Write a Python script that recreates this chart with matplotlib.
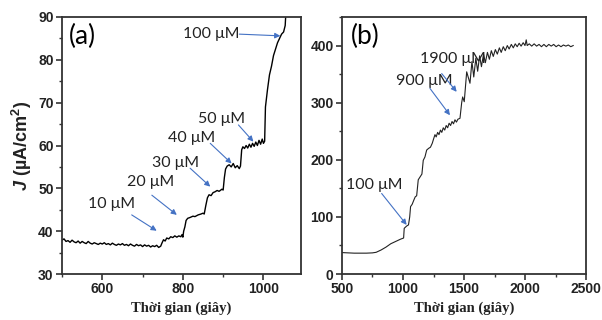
import matplotlib
matplotlib.use("Agg")
import matplotlib.pyplot as plt
from matplotlib.ticker import MultipleLocator

plt.rcParams['mathtext.fontset'] = 'custom'
plt.rcParams['mathtext.bfit'] = 'Liberation Sans:bold:italic'
plt.rcParams['mathtext.bf'] = 'Liberation Sans:bold'
plt.rcParams['mathtext.rm'] = 'Liberation Sans'

# ---------------- data: panel (a) ----------------
a_time = [500, 505, 510, 515, 520, 525, 530, 535, 540, 545, 550, 555, 560, 565, 570,
          575, 580, 585, 590, 595, 600, 605, 610, 615, 620, 625, 630, 635, 640, 645,
          650, 655, 660, 665, 670, 675, 680, 685, 690, 695, 700, 705, 710, 715, 720,
          725, 730, 735, 740, 745, 748, 752, 756, 760, 765, 770, 775, 780, 785, 790,
          795, 798, 800, 802, 805, 808, 812, 818, 825, 830, 838, 845, 850, 853, 857,
          861, 865, 870, 875, 880, 885, 890, 897, 900, 903, 906, 910, 915, 920, 925,
          930, 935, 940, 943, 946, 949, 953, 957, 961, 965, 969, 973, 977, 981, 985,
          989, 993, 997, 1000, 1003, 1005, 1010, 1015, 1020, 1025, 1030, 1035, 1040,
          1045, 1050, 1054, 1058]
a_current = [37.9, 38.2, 37.6, 37.8, 37.4, 37.9, 37.5, 37.3, 37.7, 37.2, 37.6, 37.3, 37.1, 37.6, 37.2,
             37.0, 37.3, 37.1, 36.9, 37.2, 37.0, 37.3, 36.9, 37.1, 36.8, 37.2, 36.9, 36.7, 37.0, 36.8,
             37.1, 36.7, 36.9, 36.6, 37.0, 36.7, 36.5, 36.9, 36.6, 36.8, 36.4, 36.8, 36.5, 36.7, 36.3,
             36.6, 36.4, 36.7, 36.2, 36.5, 37.2, 38.0, 37.7, 38.4, 38.2, 38.7, 38.5, 38.9, 38.6, 38.9,
             38.7, 39.2, 38.6, 40.0, 41.0, 42.5, 43.0, 43.2, 43.5, 43.4, 43.8, 44.0, 44.2, 44.0, 46.0,
             47.8, 48.5, 48.3, 49.0, 49.2, 49.5, 49.3, 49.8, 49.6, 52.5, 54.5, 55.2, 55.5, 55.0, 55.8,
             54.8, 55.3, 54.6, 55.2, 59.0, 59.7, 59.3, 60.0, 59.4, 60.3, 59.6, 60.5, 59.8, 60.8, 60.0,
             61.2, 60.3, 61.5, 60.5, 61.0, 69.0, 73.0, 76.5, 78.5, 81.0, 82.5, 84.0, 85.0,
             86.0, 86.5, 88.0, 95.0]

a_labels = ["10 \u03bcM", "20 \u03bcM", "30 \u03bcM", "40 \u03bcM", "50 \u03bcM", "100 \u03bcM"]
a_text_xy = [(622, 46.3), (719, 51.4), (782, 56.0), (822, 61.75), (896, 66.2), (871, 86.0)]
a_arrow_from = [(673, 43.8), (723, 48.4), (818, 54.7), (868, 60.5), (938, 64.8), (940, 86.0)]
a_arrow_to = [(735, 40.1), (785, 43.8), (868, 50.4), (921, 55.8), (975, 60.9), (1042, 85.6)]

# ---------------- data: panel (b) ----------------
b_time = [500, 550, 600, 650, 700, 750, 780, 820, 860, 900, 940, 980, 1005, 1010, 1030,
          1045, 1055, 1062, 1075, 1090, 1100, 1112, 1125, 1140, 1155, 1166, 1180, 1194,
          1210, 1225, 1240, 1250, 1262, 1272, 1284, 1295, 1307, 1318, 1330, 1342, 1354,
          1366, 1378, 1390, 1402, 1414, 1426, 1438, 1450, 1467, 1481, 1489, 1502, 1522,
          1549, 1565, 1580, 1597, 1612, 1628, 1643, 1660, 1675, 1692, 1708, 1724, 1740,
          1757, 1773, 1790, 1805, 1822, 1838, 1855, 1870, 1888, 1904, 1920, 1936, 1952,
          1968, 1985, 2000, 2010, 2018, 2035, 2055, 2075, 2095, 2115, 2135, 2155, 2175,
          2195, 2215, 2235, 2255, 2275, 2295, 2315, 2335, 2355, 2375, 2395]
b_current = [37.5, 37.0, 36.5, 36.5, 36.5, 37.0, 38.0, 42.0, 47.0, 53.0, 57.0, 61.0, 63.0, 80.0, 84.0,
             86.0, 100.0, 118.0, 122.0, 130.0, 135.0, 137.0, 165.0, 170.0, 175.0, 199.0, 205.0, 217.0,
             220.0, 222.0, 229.0, 236.0, 244.0, 240.0, 248.0, 244.0, 252.0, 248.0, 256.0, 252.0, 260.0,
             256.0, 264.0, 260.0, 267.0, 263.0, 270.0, 266.0, 271.0, 272.6, 300.0, 310.0, 301.7, 354.0,
             334.0, 372.0, 345.0, 378.0, 355.0, 382.0, 363.0, 385.0, 370.0, 388.0, 376.0, 391.0, 381.0,
             393.0, 385.0, 396.0, 388.0, 398.0, 391.0, 400.0, 394.0, 402.0, 396.0, 403.0, 398.0, 404.0,
             399.0, 405.0, 400.0, 410.0, 400.0, 403.0, 399.0, 403.0, 399.0, 402.0, 398.0, 402.0, 398.0,
             402.0, 399.0, 402.0, 398.0, 401.0, 398.0, 401.0, 399.0, 401.0, 398.0, 400.0]

b_labels = ["100 \u03bcM", "900 \u03bcM", "1900 \u03bcM"]
b_text_xy = [(762, 156), (1174, 338), (1411, 377)]
b_arrow_from = [(825, 141), (1221, 325), (1317, 351)]
b_arrow_to = [(1030, 86), (1385, 278), (1440, 319)]

# ---------------- figure ----------------
fig = plt.figure(figsize=(6.02, 3.2), dpi=100)
axA = fig.add_axes([62 / 602, 1 - 274 / 320, (300.5 - 62) / 602, (274 - 17) / 320])
axB = fig.add_axes([342 / 602, 1 - 274 / 320, (586 - 342) / 602, (274 - 17) / 320])

arrow_color = "#4472C4"
label_font = "Lato"
tick_font = "Liberation Sans"
xlabel_font = "Liberation Serif"
spine_color = "#333333"

def style(ax):
    for s in ax.spines.values():
        s.set_color(spine_color)
        s.set_linewidth(1.3)
    ax.tick_params(axis="both", which="major", direction="out", length=4, width=1.2,
                   color=spine_color, labelsize=10, pad=2)
    ax.tick_params(axis="both", which="minor", direction="out", length=2, width=1.0,
                   color=spine_color)
    for lab in ax.get_xticklabels() + ax.get_yticklabels():
        lab.set_fontfamily(tick_font)
        lab.set_fontweight("bold")
        lab.set_color("#222222")
    ax.set_xlabel("Thời gian (giây)", fontfamily=xlabel_font, fontweight="bold",
                  fontsize=10.5, labelpad=4, color="#222222")

# panel (a)
axA.plot(a_time, a_current, color="black", lw=1.0)
axA.set_xlim(500, 1092)
axA.set_ylim(30, 90)
axA.xaxis.set_major_locator(MultipleLocator(200))
axA.xaxis.set_minor_locator(MultipleLocator(100))
axA.yaxis.set_major_locator(MultipleLocator(10))
axA.yaxis.set_minor_locator(MultipleLocator(5))
style(axA)
axA.set_ylabel(r"$\mathbfit{J}$ (µA/cm$^{\mathbf{2}}$)", fontfamily=tick_font,
               fontweight="bold", fontsize=13, labelpad=3, color="#222222")
axA.text(0.03, 0.975, "(a)", transform=axA.transAxes, fontfamily=label_font,
         fontsize=19, va="top", ha="left")
for lab, txy, a0, a1 in zip(a_labels, a_text_xy, a_arrow_from, a_arrow_to):
    axA.text(txy[0], txy[1], lab, fontfamily=label_font, fontsize=11.5, ha="center",
             va="center", color="#222222")
    axA.annotate("", xy=a1, xytext=a0,
                 arrowprops=dict(arrowstyle="-|>", color=arrow_color, lw=0.8,
                                 mutation_scale=8, shrinkA=0, shrinkB=0))

# panel (b)
axB.plot(b_time, b_current, color="#222222", lw=0.8)
axB.set_xlim(500, 2500)
axB.set_ylim(0, 450)
axB.xaxis.set_major_locator(MultipleLocator(500))
axB.xaxis.set_minor_locator(MultipleLocator(250))
axB.yaxis.set_major_locator(MultipleLocator(100))
axB.yaxis.set_minor_locator(MultipleLocator(50))
style(axB)
axB.text(0.035, 0.975, "(b)", transform=axB.transAxes, fontfamily=label_font,
         fontsize=19, va="top", ha="left")
for lab, txy, a0, a1 in zip(b_labels, b_text_xy, b_arrow_from, b_arrow_to):
    axB.text(txy[0], txy[1], lab, fontfamily=label_font, fontsize=11.5, ha="center",
             va="center", color="#222222")
    axB.annotate("", xy=a1, xytext=a0,
                 arrowprops=dict(arrowstyle="-|>", color=arrow_color, lw=0.8,
                                 mutation_scale=8, shrinkA=0, shrinkB=0))

fig.savefig("out.png", dpi=100)
